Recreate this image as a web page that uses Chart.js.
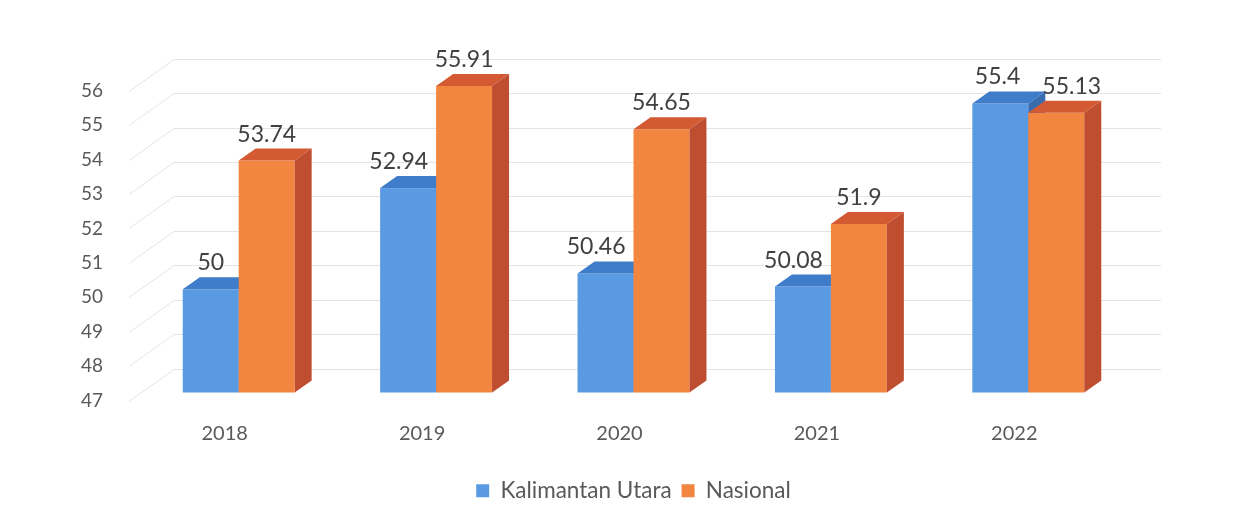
<!DOCTYPE html>
<html><head><meta charset="utf-8">
<script src="https://cdn.jsdelivr.net/npm/chart.js@4.4.1/dist/chart.umd.min.js"></script>
<style>html,body{margin:0;padding:0;background:#fff}#wrap{width:1237px;height:521px}</style>
</head><body><div id="wrap"><canvas id="c" width="1237" height="521"></canvas></div>
<script>
const categories = ['2018', '2019', '2020', '2021', '2022'];
const kalimantanUtara = [50, 52.94, 50.46, 50.08, 55.4];
const nasional = [53.74, 55.91, 54.65, 51.9, 55.13];
const seriesNames = ['Kalimantan Utara', 'Nasional'];
const yTicks = [47, 48, 49, 50, 51, 52, 53, 54, 55, 56];

const FONT = 'Lato, "Open Sans", sans-serif';
const DX = 17, DY = -12;   // bar depth
const WX = 34, WY = -24;   // back wall offset
const LX = -11, LY = 8;    // front floor edge offset

function poly(ctx, pts) {
  ctx.beginPath();
  ctx.moveTo(pts[0][0], pts[0][1]);
  for (let i = 1; i < pts.length; i++) ctx.lineTo(pts[i][0], pts[i][1]);
  ctx.closePath();
  ctx.fill();
}

const depth3d = {
  id: 'depth3d',
  beforeDatasetsDraw(chart) {
    const { ctx, chartArea, scales: { y } } = chart;
    ctx.save();
    ctx.strokeStyle = '#e4e4e4';
    ctx.lineWidth = 1;
    yTicks.forEach(v => {
      const py = Math.round(y.getPixelForValue(v)) + 0.5;
      ctx.beginPath();
      ctx.moveTo(chartArea.left + LX, py + LY);
      ctx.lineTo(chartArea.left + WX, py + WY);
      ctx.lineTo(chartArea.right + WX, py + WY);
      ctx.stroke();
    });
    ctx.restore();
  },
  beforeDatasetDraw() { return false; },
  afterDatasetsDraw(chart) {
    const ctx = chart.ctx;
    const base = chart.scales.y.getPixelForValue(chart.scales.y.min);
    ctx.save();
    const n = chart.data.labels.length;
    for (let i = 0; i < n; i++) {
      [0, 1].forEach(di => {
        const ds = chart.data.datasets[di];
        const bar = chart.getDatasetMeta(di).data[i];
        const { x, y, width } = bar.getProps(['x', 'y', 'width'], true);
        const l = x - width / 2, r = x + width / 2;
        ctx.fillStyle = ds.backgroundColor;
        ctx.fillRect(l, y, width, base - y);
        ctx.fillStyle = ds.topColor;
        poly(ctx, [[l, y], [r, y], [r + DX, y + DY], [l + DX, y + DY]]);
        ctx.fillStyle = ds.sideColor;
        poly(ctx, [[r, y], [r + DX, y + DY], [r + DX, base + DY], [r, base]]);
      });
    }
    ctx.restore();
  },
  afterDraw(chart) {
    const ctx = chart.ctx;
    ctx.save();
    ctx.font = '23px ' + FONT;
    ctx.fillStyle = '#404040';
    ctx.textAlign = 'left';
    ctx.textBaseline = 'alphabetic';
    const prev = [];
    [0, 1].forEach(di => {
      const meta = chart.getDatasetMeta(di);
      const data = chart.data.datasets[di].data;
      meta.data.forEach((bar, i) => {
        const { x, y, width } = bar.getProps(['x', 'y', 'width'], true);
        const txt = String(data[i]);
        const w = ctx.measureText(txt).width;
        let left = x - w / 2;
        const by = y - 19;
        if (di === 0) {
          const lim = x + width / 2 - 8;
          if (left + w > lim) left = lim - w;
          prev[i] = { right: left + w, by };
        } else if (prev[i] && Math.abs(prev[i].by - by) < 23 && left < prev[i].right + 22) {
          left = prev[i].right + 22;
        }
        ctx.fillText(txt, left, by);
      });
    });
    ctx.restore();
  }
};

function build() {
  new Chart(document.getElementById('c'), {
    type: 'bar',
    data: {
      labels: categories,
      datasets: [
        { label: seriesNames[0], data: kalimantanUtara, backgroundColor: '#5a9ae2', topColor: '#3f7dcb', sideColor: '#3a6cb0', borderWidth: 0 },
        { label: seriesNames[1], data: nasional, backgroundColor: '#f28641', topColor: '#d35a33', sideColor: '#bf4e30', borderWidth: 0 }
      ]
    },
    options: {
      responsive: false,
      animation: false,
      devicePixelRatio: 1,
      layout: { padding: { top: 38, right: 110, left: 0, bottom: 9 } },
      datasets: { bar: { categoryPercentage: 0.567, barPercentage: 1.0 } },
      scales: {
        x: {
          grid: { display: false, drawTicks: false },
          border: { display: false },
          ticks: { font: { family: FONT, size: 20 }, color: '#595959', padding: 29, labelOffset: -14 },
          afterFit(s) { s.height = 77; }
        },
        y: {
          min: 47, max: 57,
          grid: { display: false, drawTicks: false },
          border: { display: false },
          ticks: {
            stepSize: 1,
            font: { family: FONT, size: 19 }, color: '#595959', padding: 37, labelOffset: 8,
            callback: v => (yTicks.includes(v) ? String(v) : '')
          },
          afterFit(s) { s.width = 140; }
        }
      },
      plugins: {
        tooltip: { enabled: false },
        legend: {
          position: 'bottom',
          fullSize: false,
          labels: {
            font: { family: FONT, size: 22.5 }, color: '#595959',
            boxWidth: 13, boxHeight: 13, padding: 10
          }
        }
      }
    },
    plugins: [depth3d]
  });
}

if (document.fonts && document.fonts.load) {
  Promise.all([document.fonts.load('20px Lato'), document.fonts.load('bold 20px Lato')])
    .catch(() => {}).then(build);
} else {
  build();
}
</script>
</body></html>
